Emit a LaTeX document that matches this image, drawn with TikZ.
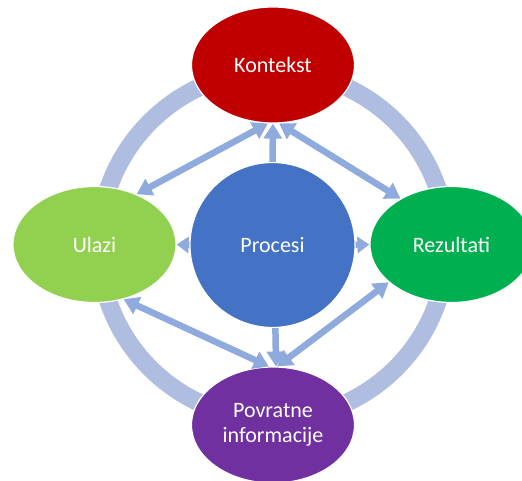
\documentclass[tikz,border=0pt]{standalone}
\usepackage{fontspec}
\setmainfont{Carlito}
\usetikzlibrary{arrows.meta,shapes.geometric}

\definecolor{ringblue}{RGB}{174,189,224}
\definecolor{arrowblue}{RGB}{143,170,220}
\definecolor{kontekstred}{RGB}{192,0,0}
\definecolor{ulazigreen}{RGB}{146,208,80}
\definecolor{rezultatigreen}{RGB}{0,176,80}
\definecolor{povratnepurple}{RGB}{112,48,160}
\definecolor{procesiblue}{RGB}{68,114,196}

\begin{document}
\begin{tikzpicture}[x=1pt, y=-1pt,
    >={Triangle[width=18pt,length=15pt]},
    blob/.style={ellipse, draw=white, line width=1.2pt, minimum width=163pt,
        minimum height=116pt, inner sep=0pt, text=white, align=center,
        font=\fontsize{22}{25}\selectfont},
    link/.style={arrowblue, line width=6.5pt}]
    \useasboundingbox (0,0) rectangle (522,481);

    % Ring
    \draw[ringblue, line width=18pt] (273,245) circle [radius=174];

    % Outer nodes
    \node[blob, fill=kontekstred] (kontekst) at (273,65) {Kontekst};
    \node[blob, fill=ulazigreen] (ulazi) at (94.5,244.5) {Ulazi};
    \node[blob, fill=rezultatigreen] (rezultati) at (451.5,244.5) {Rezultati};
    \node[blob, fill=povratnepurple] (povratne) at (273,425) {Povratne\\informacije};

    % Centre
    \node[circle, draw=white, line width=1.2pt, fill=procesiblue, minimum size=165pt,
        inner sep=0pt, text=white, font=\fontsize{22}{25}\selectfont]
        (procesi) at (272.5,245) {Procesi};

    % Arrows from the centre
    \draw[link, ->] (procesi.north) -- (kontekst.south);
    \draw[link, ->] (procesi.272) -- (povratne.87);
    \draw[link, -{Triangle[width=16pt,length=12pt]}] (procesi.west) -- (ulazi.east);
    \draw[link, -{Triangle[width=16pt,length=12pt]}] (procesi.east) -- (rezultati.west);

    % Arrows round the centre
    \draw[link, <->] (kontekst.265) -- (ulazi.50);
    \draw[link, <->] (kontekst.276) -- (rezultati.138);
    \draw[link, <->] (ulazi.298) -- (povratne.94);
    \draw[link, <->] (rezultati.211) -- (povratne.86);
\end{tikzpicture}
\end{document}
